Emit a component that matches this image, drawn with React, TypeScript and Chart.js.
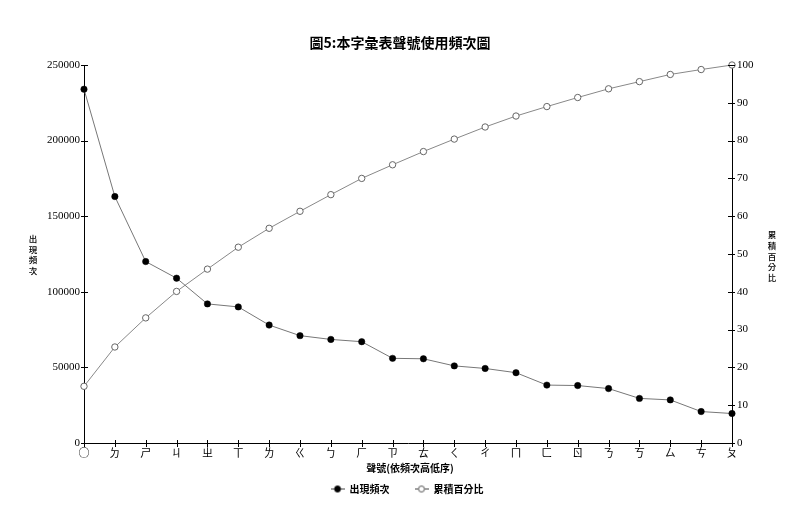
import React, { useEffect, useRef } from "react";
import { Chart, registerables } from "chart.js";

Chart.register(...registerables);

const chartTitle = "圖5:本字彙表聲號使用頻次圖";
const xAxisTitle = "聲號(依頻次高低序)";
const leftAxisTitle = ["出", "現", "頻", "次"];
const rightAxisTitle = ["累", "積", "百", "分", "比"];
const seriesNames = ["出現頻次", "累積百分比"];

const categories = ["○", "ㄉ", "ㄕ", "ㄐ", "ㄓ", "ㄒ", "ㄌ", "ㄍ", "ㄅ", "ㄏ", "ㄗ", "ㄊ", "ㄑ", "ㄔ", "ㄇ", "ㄈ", "ㄖ", "ㄋ", "ㄎ", "ㄙ", "ㄘ", "ㄆ"];
const frequency = [234000, 163000, 120000, 109000, 92000, 90000, 78000, 71000, 68500, 67000, 56000, 55700, 51000, 49300, 46500, 38300, 38000, 36000, 29500, 28500, 20800, 19500];
const cumulativePercent = [15.0, 25.4, 33.1, 40.1, 46.0, 51.8, 56.8, 61.3, 65.7, 70.0, 73.6, 77.1, 80.4, 83.6, 86.5, 89.0, 91.4, 93.7, 95.6, 97.5, 98.8, 100];

const freqMax = 250000;
const freqStep = 50000;
const pctMax = 100;
const pctStep = 10;

const CJK = "'Noto Sans CJK TC', 'Noto Sans CJK SC', sans-serif";
const NUM = "'Liberation Serif', 'DejaVu Serif', serif";

function makeMarker(filled: boolean): HTMLCanvasElement {
  const c = document.createElement("canvas");
  c.width = 14;
  c.height = 9;
  const ctx = c.getContext("2d")!;
  ctx.strokeStyle = "#444";
  ctx.lineWidth = 1;
  ctx.beginPath();
  ctx.moveTo(0, 4.5);
  ctx.lineTo(14, 4.5);
  ctx.stroke();
  ctx.beginPath();
  ctx.arc(7, 4.5, 3, 0, Math.PI * 2);
  ctx.fillStyle = filled ? "#000" : "#fff";
  ctx.fill();
  ctx.strokeStyle = filled ? "#000" : "#555";
  ctx.stroke();
  return c;
}

const decorPlugin = {
  id: "decor",
  afterLayout(chart: any) {
    const lg = chart.legend;
    if (lg) {
      lg.left += 7;
      lg.right += 7;
    }
  },
  afterDraw(chart: any) {
    const ctx = chart.ctx;
    const area = chart.chartArea;
    const xs = chart.scales.x;
    const ys = chart.scales.y;
    const y1 = chart.scales.y1;
    ctx.save();
    ctx.strokeStyle = "#000";
    ctx.lineWidth = 1;
    // crossing tick marks
    ctx.beginPath();
    for (let i = 0; i < xs.ticks.length; i++) {
      const px = Math.round(xs.getPixelForTick(i)) + 0.5;
      ctx.moveTo(px, area.bottom - 3);
      ctx.lineTo(px, area.bottom + 4);
    }
    for (let i = 0; i < ys.ticks.length; i++) {
      const py = Math.round(ys.getPixelForTick(i)) + 0.5;
      ctx.moveTo(area.left - 3, py);
      ctx.lineTo(area.left + 4, py);
    }
    for (let i = 0; i < y1.ticks.length; i++) {
      const py = Math.round(y1.getPixelForTick(i)) + 0.5;
      ctx.moveTo(area.right - 4, py);
      ctx.lineTo(area.right + 3, py);
    }
    ctx.stroke();

    ctx.fillStyle = "#000";
    ctx.textAlign = "center";
    ctx.textBaseline = "middle";
    ctx.font = "500 8.5px " + CJK;
    leftAxisTitle.forEach((ch, i) => ctx.fillText(ch, 33, 239 + i * 10.5));
    rightAxisTitle.forEach((ch, i) => ctx.fillText(ch, 772, 235 + i * 10.7));
    ctx.font = "bold 10px " + CJK;
    ctx.fillText(xAxisTitle, 410, 468);
    ctx.restore();
  },
};

export default function App() {
  const ref = useRef<HTMLCanvasElement | null>(null);

  useEffect(() => {
    if (!ref.current) return;
    const markers = [makeMarker(true), makeMarker(false)];
    const chart = new Chart(ref.current, {
      type: "line",
      data: {
        labels: categories,
        datasets: [
          {
            label: seriesNames[0],
            data: frequency,
            yAxisID: "y",
            borderColor: "#777",
            borderWidth: 1,
            pointRadius: 3.2,
            pointBackgroundColor: "#000",
            pointBorderColor: "#000",
            pointBorderWidth: 0.5,
            tension: 0,
            clip: false,
          } as any,
          {
            label: seriesNames[1],
            data: cumulativePercent,
            yAxisID: "y1",
            borderColor: "#888",
            borderWidth: 1,
            pointRadius: 3.2,
            pointBackgroundColor: "#fff",
            pointBorderColor: "#666",
            pointBorderWidth: 1,
            tension: 0,
            clip: false,
          } as any,
        ],
      },
      options: {
        responsive: false,
        animation: false,
        devicePixelRatio: 1,
        layout: { padding: { left: 0, right: 0, top: 0, bottom: 20 } },
        plugins: {
          tooltip: { enabled: false },
          title: {
            display: true,
            text: chartTitle,
            color: "#000",
            font: { family: CJK, size: 14, weight: "bold", lineHeight: 1.2 },
            padding: { top: 34, bottom: 14.2 },
          },
          legend: {
            display: true,
            position: "bottom",
            labels: {
              usePointStyle: true,
              pointStyleWidth: 14,
              padding: 25,
              color: "#000",
              font: { family: CJK, size: 10, weight: "bold" },
              generateLabels: (c: any) =>
                c.data.datasets.map((ds: any, i: number) => ({
                  text: ds.label,
                  pointStyle: markers[i],
                  fillStyle: "#000",
                  strokeStyle: "#000",
                  lineWidth: 0,
                  hidden: false,
                  datasetIndex: i,
                  fontColor: "#000",
                })),
            },
          },
        },
        scales: {
          x: {
            type: "category",
            offset: false,
            grid: { display: false, drawTicks: false },
            border: { display: true, color: "#000", width: 1 },
            ticks: {
              autoSkip: false,
              maxRotation: 0,
              minRotation: 0,
              padding: 3,
              color: "#000",
              font: { family: CJK, size: 11 },
            },
            afterFit: (s: any) => {
              s.height = 16;
            },
          },
          y: {
            type: "linear",
            position: "left",
            min: 0,
            max: freqMax,
            grid: { display: false, drawTicks: false },
            border: { display: true, color: "#000", width: 1 },
            ticks: {
              stepSize: freqStep,
              padding: 4,
              color: "#000",
              font: { family: NUM, size: 11 },
              callback: (v: any) => String(v),
            },
            afterFit: (s: any) => {
              s.width = 84;
            },
          },
          y1: {
            type: "linear",
            position: "right",
            min: 0,
            max: pctMax,
            grid: { display: false, drawTicks: false },
            border: { display: true, color: "#000", width: 1 },
            ticks: {
              stepSize: pctStep,
              padding: 5,
              color: "#000",
              font: { family: NUM, size: 11 },
              callback: (v: any) => String(v),
            },
            afterFit: (s: any) => {
              s.width = 68;
            },
          },
        },
      } as any,
      plugins: [decorPlugin],
    });
    return () => chart.destroy();
  }, []);

  return (
    <div style={{ position: "absolute", left: 0, top: 0, width: 800, height: 524, background: "#fff" }}>
      <canvas ref={ref} width={800} height={524} style={{ display: "block", width: 800, height: 524 }} />
    </div>
  );
}
